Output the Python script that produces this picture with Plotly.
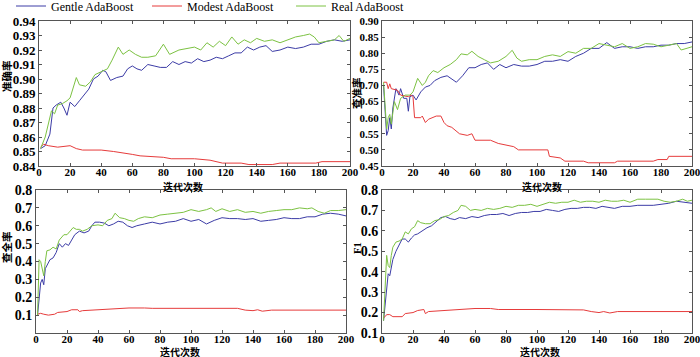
import plotly.graph_objects as go

# ---------------- data ----------------
series_names = ["Gentle AdaBoost", "Modest AdaBoost", "Real AdaBoost"]
x_title = "迭代次数"
y_titles = ["准确率", "查准率", "查全率", "F1"]

# Panel 1: accuracy
acc_gentle_x = [1, 4, 7, 9, 11, 14, 16, 18, 20, 23, 26, 29, 32, 35, 38, 41, 43, 46, 50, 54, 57, 60, 63, 66, 70, 74, 78, 82, 86, 90, 94, 98, 102, 106, 110, 114, 118, 122, 126, 130, 134, 138, 142, 146, 150, 155, 160, 165, 170, 175, 180, 185, 190, 195, 200]
acc_gentle_y = [0.852, 0.854, 0.862, 0.880, 0.882, 0.884, 0.880, 0.875, 0.884, 0.881, 0.885, 0.889, 0.893, 0.900, 0.902, 0.906, 0.905, 0.899, 0.901, 0.902, 0.907, 0.909, 0.907, 0.906, 0.910, 0.909, 0.908, 0.908, 0.912, 0.910, 0.912, 0.911, 0.914, 0.912, 0.913, 0.915, 0.914, 0.916, 0.918, 0.918, 0.922, 0.920, 0.922, 0.923, 0.919, 0.920, 0.922, 0.921, 0.922, 0.924, 0.924, 0.926, 0.927, 0.926, 0.927]
acc_modest_x = [1, 3, 6, 12, 20, 24, 28, 30, 40, 48, 55, 60, 65, 80, 85, 100, 110, 118, 130, 135, 150, 155, 178, 182, 200]
acc_modest_y = [0.853, 0.855, 0.854, 0.853, 0.854, 0.852, 0.851, 0.851, 0.851, 0.850, 0.849, 0.848, 0.847, 0.846, 0.845, 0.845, 0.844, 0.842, 0.842, 0.841, 0.841, 0.842, 0.842, 0.843, 0.843]
acc_real_x = [1, 4, 8, 10, 12, 15, 18, 20, 24, 26, 30, 33, 36, 40, 44, 47, 51, 54, 58, 62, 66, 70, 75, 80, 84, 90, 95, 100, 104, 108, 112, 116, 120, 124, 128, 132, 136, 140, 145, 150, 155, 160, 165, 170, 174, 177, 180, 185, 190, 193, 196, 200]
acc_real_y = [0.852, 0.860, 0.878, 0.876, 0.882, 0.883, 0.885, 0.887, 0.901, 0.896, 0.895, 0.898, 0.903, 0.905, 0.907, 0.913, 0.922, 0.917, 0.920, 0.917, 0.915, 0.915, 0.916, 0.924, 0.917, 0.920, 0.921, 0.922, 0.920, 0.925, 0.922, 0.926, 0.923, 0.929, 0.924, 0.927, 0.925, 0.928, 0.926, 0.927, 0.925, 0.927, 0.929, 0.930, 0.931, 0.929, 0.925, 0.926, 0.927, 0.930, 0.926, 0.928]

# Panel 2: precision
pre_gentle_x = [1, 2, 3, 4, 5, 6, 7, 9, 11, 12, 14, 16, 17, 18, 20, 22, 25, 28, 31, 34, 38, 42, 45, 48, 52, 56, 60, 64, 68, 72, 76, 80, 85, 90, 95, 100, 105, 110, 115, 120, 125, 130, 135, 140, 145, 150, 155, 160, 165, 170, 175, 180, 185, 190, 195, 200]
pre_gentle_y = [0.70, 0.63, 0.545, 0.56, 0.60, 0.565, 0.63, 0.69, 0.67, 0.69, 0.66, 0.66, 0.62, 0.665, 0.67, 0.655, 0.68, 0.695, 0.70, 0.715, 0.725, 0.73, 0.72, 0.71, 0.73, 0.755, 0.755, 0.765, 0.77, 0.75, 0.765, 0.755, 0.765, 0.76, 0.76, 0.765, 0.775, 0.775, 0.78, 0.775, 0.79, 0.80, 0.815, 0.815, 0.833, 0.815, 0.82, 0.82, 0.815, 0.82, 0.82, 0.825, 0.825, 0.83, 0.83, 0.835]
pre_modest_x = [1, 3, 4, 5, 6, 10, 12, 17, 19, 20, 21, 25, 26, 28, 30, 35, 38, 40, 42, 45, 50, 55, 58, 60, 70, 72, 75, 80, 85, 88, 107, 108, 115, 118, 130, 133, 150, 152, 175, 178, 184, 185, 200]
pre_modest_y = [0.71, 0.71, 0.69, 0.705, 0.69, 0.685, 0.67, 0.665, 0.67, 0.665, 0.60, 0.60, 0.605, 0.585, 0.595, 0.605, 0.605, 0.585, 0.575, 0.57, 0.55, 0.545, 0.55, 0.53, 0.53, 0.525, 0.52, 0.515, 0.51, 0.50, 0.50, 0.48, 0.475, 0.465, 0.465, 0.46, 0.46, 0.465, 0.465, 0.47, 0.47, 0.48, 0.48]
pre_real_x = [1, 2, 3, 4, 5, 6, 7, 8, 10, 12, 15, 18, 20, 23, 26, 28, 30, 33, 36, 40, 44, 48, 51, 55, 58, 62, 66, 70, 75, 80, 84, 87, 90, 95, 100, 105, 110, 115, 120, 125, 130, 135, 140, 145, 150, 155, 160, 165, 170, 175, 180, 185, 190, 193, 200]
pre_real_y = [0.71, 0.65, 0.565, 0.60, 0.61, 0.58, 0.62, 0.65, 0.625, 0.66, 0.67, 0.67, 0.68, 0.722, 0.70, 0.71, 0.73, 0.746, 0.74, 0.755, 0.765, 0.78, 0.798, 0.795, 0.806, 0.79, 0.78, 0.77, 0.775, 0.79, 0.809, 0.785, 0.775, 0.78, 0.78, 0.79, 0.795, 0.79, 0.805, 0.80, 0.815, 0.815, 0.83, 0.825, 0.82, 0.83, 0.815, 0.82, 0.83, 0.828, 0.82, 0.825, 0.83, 0.81, 0.82]

# Panel 3: recall
rec_gentle_x = [1, 2, 3, 4, 5, 6, 7, 9, 11, 13, 15, 17, 19, 21, 23, 25, 28, 31, 34, 36, 38, 41, 44, 47, 50, 53, 56, 59, 62, 65, 70, 75, 80, 85, 90, 95, 100, 105, 110, 115, 120, 125, 130, 135, 140, 145, 150, 155, 160, 165, 170, 175, 180, 185, 190, 195, 200]
rec_gentle_y = [0.10, 0.20, 0.28, 0.30, 0.27, 0.36, 0.38, 0.41, 0.42, 0.45, 0.50, 0.48, 0.50, 0.49, 0.52, 0.55, 0.57, 0.56, 0.57, 0.60, 0.62, 0.62, 0.615, 0.60, 0.61, 0.625, 0.62, 0.60, 0.59, 0.60, 0.61, 0.62, 0.61, 0.62, 0.625, 0.64, 0.625, 0.635, 0.61, 0.63, 0.645, 0.64, 0.64, 0.635, 0.64, 0.625, 0.63, 0.635, 0.645, 0.64, 0.64, 0.65, 0.65, 0.665, 0.67, 0.665, 0.655]
rec_modest_x = [1, 3, 5, 8, 12, 14, 20, 23, 27, 28, 30, 40, 55, 60, 70, 75, 130, 135, 140, 143, 146, 150, 152, 200]
rec_modest_y = [0.105, 0.11, 0.105, 0.10, 0.105, 0.115, 0.12, 0.13, 0.13, 0.12, 0.125, 0.13, 0.135, 0.14, 0.14, 0.138, 0.138, 0.128, 0.125, 0.13, 0.122, 0.125, 0.128, 0.128]
rec_real_x = [1, 2, 3, 4, 5, 6, 7, 9, 11, 13, 15, 18, 20, 22, 24, 26, 28, 30, 33, 36, 40, 43, 46, 49, 51, 54, 57, 60, 63, 66, 70, 75, 80, 85, 90, 95, 100, 105, 110, 113, 116, 120, 125, 130, 135, 140, 145, 150, 155, 160, 165, 170, 175, 178, 182, 186, 190, 195, 200]
rec_real_y = [0.10, 0.41, 0.40, 0.35, 0.32, 0.40, 0.46, 0.465, 0.48, 0.47, 0.52, 0.55, 0.55, 0.57, 0.59, 0.58, 0.58, 0.57, 0.58, 0.60, 0.605, 0.60, 0.63, 0.64, 0.67, 0.645, 0.64, 0.63, 0.625, 0.64, 0.65, 0.645, 0.66, 0.665, 0.67, 0.675, 0.69, 0.68, 0.69, 0.70, 0.68, 0.695, 0.68, 0.69, 0.675, 0.68, 0.67, 0.68, 0.685, 0.69, 0.69, 0.70, 0.695, 0.70, 0.68, 0.67, 0.685, 0.685, 0.69]

# Panel 4: F1
f1_gentle_x = [1, 2, 3, 4, 5, 6, 7, 9, 11, 13, 15, 17, 19, 21, 23, 26, 29, 32, 35, 38, 41, 44, 47, 50, 54, 58, 62, 66, 70, 74, 78, 82, 86, 90, 94, 98, 102, 106, 110, 114, 118, 122, 126, 130, 134, 138, 142, 146, 150, 155, 160, 165, 170, 175, 180, 185, 190, 195, 200]
f1_gentle_y = [0.16, 0.25, 0.33, 0.39, 0.38, 0.43, 0.46, 0.50, 0.53, 0.56, 0.56, 0.545, 0.565, 0.58, 0.585, 0.60, 0.615, 0.625, 0.645, 0.665, 0.67, 0.66, 0.655, 0.665, 0.66, 0.67, 0.665, 0.675, 0.68, 0.68, 0.685, 0.675, 0.685, 0.69, 0.69, 0.695, 0.695, 0.705, 0.70, 0.695, 0.705, 0.71, 0.71, 0.715, 0.715, 0.71, 0.72, 0.715, 0.71, 0.72, 0.72, 0.725, 0.725, 0.725, 0.73, 0.735, 0.745, 0.74, 0.735]
f1_modest_x = [1, 2, 3, 5, 7, 13, 15, 20, 23, 27, 28, 30, 40, 50, 60, 70, 75, 100, 130, 135, 140, 143, 147, 152, 200]
f1_modest_y = [0.175, 0.18, 0.19, 0.19, 0.18, 0.18, 0.195, 0.20, 0.21, 0.215, 0.195, 0.205, 0.21, 0.215, 0.22, 0.22, 0.215, 0.215, 0.213, 0.205, 0.20, 0.205, 0.198, 0.205, 0.205]
f1_real_x = [1, 2, 3, 4, 5, 6, 7, 9, 11, 13, 15, 17, 19, 21, 23, 25, 28, 31, 34, 37, 40, 43, 46, 49, 51, 54, 57, 60, 64, 68, 72, 76, 80, 84, 88, 92, 96, 100, 104, 108, 112, 116, 120, 124, 128, 132, 136, 140, 144, 148, 152, 156, 160, 165, 170, 175, 178, 182, 186, 190, 194, 197, 200]
f1_real_y = [0.16, 0.30, 0.48, 0.43, 0.42, 0.48, 0.52, 0.545, 0.55, 0.56, 0.595, 0.585, 0.61, 0.62, 0.65, 0.64, 0.635, 0.635, 0.65, 0.655, 0.67, 0.675, 0.69, 0.70, 0.725, 0.72, 0.70, 0.705, 0.70, 0.71, 0.705, 0.71, 0.72, 0.715, 0.725, 0.725, 0.73, 0.72, 0.73, 0.74, 0.735, 0.74, 0.74, 0.75, 0.74, 0.745, 0.745, 0.74, 0.75, 0.745, 0.745, 0.75, 0.74, 0.755, 0.755, 0.755, 0.755, 0.745, 0.74, 0.745, 0.755, 0.745, 0.75]

# axis ranges / ticks
y_ranges = [[0.84, 0.94], [0.45, 0.90], [0.0, 0.8], [0.1, 0.8]]
y_ticks = [
    [0.84, 0.85, 0.86, 0.87, 0.88, 0.89, 0.90, 0.91, 0.92, 0.93, 0.94],
    [0.45, 0.50, 0.55, 0.60, 0.65, 0.70, 0.75, 0.80, 0.85, 0.90],
    [0.1, 0.2, 0.3, 0.4, 0.5, 0.6, 0.7, 0.8],
    [0.1, 0.2, 0.3, 0.4, 0.5, 0.6, 0.7, 0.8],
]
y_ticktext = [
    ["0.84", "0.85", "0.86", "0.87", "0.88", "0.89", "0.90", "0.91", "0.92", "0.93", "0.94"],
    ["0.45", "0.50", "0.55", "0.60", "0.65", "0.70", "0.75", "0.80", "0.85", "0.90"],
    ["0.1", "0.2", "0.3", "0.4", "0.5", "0.6", "0.7", "0.8"],
    ["0.1", "0.2", "0.3", "0.4", "0.5", "0.6", "0.7", "0.8"],
]
x_ticks = [0, 20, 40, 60, 80, 100, 120, 140, 160, 180, 200]

# ---------------- figure ----------------
W, H = 700, 357
colors = ["#3c3ca6", "#e63b3b", "#7cc242"]

panels = [
    [(acc_gentle_x, acc_gentle_y), (acc_modest_x, acc_modest_y), (acc_real_x, acc_real_y)],
    [(pre_gentle_x, pre_gentle_y), (pre_modest_x, pre_modest_y), (pre_real_x, pre_real_y)],
    [(rec_gentle_x, rec_gentle_y), (rec_modest_x, rec_modest_y), (rec_real_x, rec_real_y)],
    [(f1_gentle_x, f1_gentle_y), (f1_modest_x, f1_modest_y), (f1_real_x, f1_real_y)],
]

# pixel boxes (left, top, right, bottom)
boxes = [(39, 21, 350, 166), (382, 21, 692, 166), (36, 190, 346, 333), (382, 190, 692, 333)]
ytick_sizes = [13, 11, 14, 14]
serif = "Liberation Serif"

fig = go.Figure()
legend_names = ["legend", "legend2", "legend3"]
for p, series in enumerate(panels):
    xa = "x" if p == 0 else f"x{p+1}"
    ya = "y" if p == 0 else f"y{p+1}"
    for s, (xs, ys) in enumerate(series):
        fig.add_trace(go.Scatter(
            x=xs, y=ys, mode="lines", name=series_names[s],
            line=dict(color=colors[s], width=1),
            xaxis=xa, yaxis=ya,
            showlegend=(p == 0), legend=legend_names[s],
        ))

axis_col = "#555555"
layout = dict(
    template="none",
    font=dict(family=serif, color="black"),
    width=W, height=H, margin=dict(l=0, r=0, t=0, b=0, pad=0, autoexpand=False),
    paper_bgcolor="white", plot_bgcolor="white",
)
for p, (l, t, r, b) in enumerate(boxes):
    xk = "xaxis" if p == 0 else f"xaxis{p+1}"
    yk = "yaxis" if p == 0 else f"yaxis{p+1}"
    ya = "y" if p == 0 else f"y{p+1}"
    xa = "x" if p == 0 else f"x{p+1}"
    layout[xk] = dict(
        domain=[l / W, r / W], anchor=ya, range=[0, 200], automargin=False,
        tickvals=x_ticks, ticks="inside", ticklen=3, tickcolor=axis_col,
        showline=True, linecolor=axis_col, linewidth=1, mirror="ticks",
        showgrid=False, zeroline=False, ticklabeloverflow="allow",
        ticklabelstandoff=-4,
        tickfont=dict(family=serif, size=11, color="black", weight="bold"),
    )
    layout[yk] = dict(
        domain=[1 - b / H, 1 - t / H], anchor=xa, range=y_ranges[p], automargin=False,
        tickvals=y_ticks[p], ticktext=y_ticktext[p],
        ticks="inside", ticklen=3, tickcolor=axis_col,
        showline=True, linecolor=axis_col, linewidth=1, mirror="ticks",
        showgrid=False, zeroline=False, ticklabeloverflow="allow",
        tickfont=dict(family=serif, size=ytick_sizes[p], color="black", weight="bold"),
    )

legend_x_px = [11, 147, 291]
for i, ln in enumerate(legend_names):
    layout[ln] = dict(
        x=legend_x_px[i] / W, y=1 + 8.5 / H, xanchor="left", yanchor="top",
        orientation="h", bgcolor="rgba(0,0,0,0)", borderwidth=0,
        font=dict(family=serif, size=12, color="black"),
        tracegroupgap=0,
    )
fig.update_layout(**layout)

cjk = "Noto Sans CJK SC"
# x-axis titles: top edge of the text box given in pixels
xt_pos = [(183, 178), (542, 178), (180, 343), (540, 343)]
for (cx, ty) in xt_pos:
    fig.add_annotation(x=cx / W, y=1 - ty / H, xref="paper", yref="paper",
                       xanchor="center", yanchor="top", borderpad=0,
                       text=x_title, showarrow=False,
                       font=dict(family=cjk, size=10, color="black", weight="bold"))
yt_pos = [(6, 76), (357, 93), (6, 247), (357, 248)]
for i, (cx, cy) in enumerate(yt_pos):
    fam = serif if y_titles[i] == "F1" else cjk
    fig.add_annotation(x=cx / W, y=1 - cy / H, xref="paper", yref="paper",
                       xanchor="center", yanchor="middle",
                       text=y_titles[i], showarrow=False, textangle=-90,
                       font=dict(family=fam, size=10.5, color="black", weight="bold"))

fig.write_html(
    "out.html",
    config={"displayModeBar": False},
    post_script="document.body.style.margin='0';document.body.style.overflow='hidden';",
)
